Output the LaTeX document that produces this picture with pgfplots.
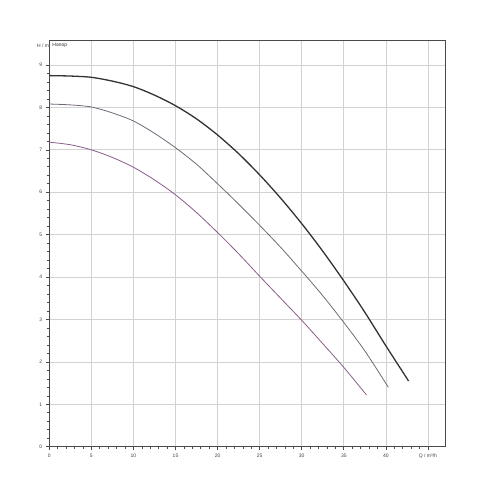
\documentclass[border=0pt]{standalone}
\usepackage{fontspec}
\setmainfont{Liberation Sans}
\usepackage{pgfplots}
\pgfplotsset{compat=1.18}

\definecolor{gridgray}{HTML}{D2D2D2}
\definecolor{framegray}{HTML}{4A4A4A}
\definecolor{curveA}{HTML}{333333}
\definecolor{curveB}{HTML}{736879}
\definecolor{curveC}{HTML}{8C5C8A}

\begin{document}
\begin{tikzpicture}[x=1pt,y=1pt]
\useasboundingbox (0,0) rectangle (500,500);

\begin{axis}[
  at={(49.3pt,53.3pt)},
  anchor=south west,
  scale only axis,
  width=395.7pt,
  height=406.7pt,
  xmin=0, xmax=47.03,
  ymin=0, ymax=9.59,
  xtick={0,5,...,45},
  xticklabels={0,5,10,15,20,25,30,35,40,{Q / m³/h}},
  ytick={0,1,...,9},
  minor x tick num=4,
  minor y tick num=4,
  tick align=outside,
  major tick length=3pt,
  minor tick length=2pt,
  tick style={framegray, line width=0.6pt},
  xtick pos=bottom,
  ytick pos=left,
  grid=major,
  major grid style={gridgray, line width=0.7pt},
  axis line style={framegray, line width=0.8pt},
  ticklabel style={font=\fontsize{5}{6}\selectfont, text=black!75},
  /pgf/number format/assume math mode=true,
  xticklabel style={yshift=-1pt},
  yticklabel style={xshift=-0.5pt},
  clip=false,
]

% upper curve
\addplot[curveA, line width=1.3pt, smooth] coordinates {
  (0,8.75) (2.5,8.74) (5,8.71) (7.5,8.62) (10,8.49) (12.5,8.29)
  (15,8.04) (17.5,7.73) (20,7.35) (22.5,6.91) (25,6.41) (27.5,5.86)
  (30,5.26) (32.5,4.61) (35,3.91) (37.5,3.17) (40,2.38) (42.7,1.55)
};

% middle curve
\addplot[curveB, line width=0.8pt, smooth] coordinates {
  (0,8.08) (2.5,8.06) (5,8.01) (7.5,7.87) (10,7.68) (12.5,7.39)
  (15,7.05) (17.5,6.66) (20,6.20) (22.5,5.72) (25,5.22) (27.5,4.70)
  (30,4.14) (32.5,3.56) (35,2.93) (37.5,2.26) (40.3,1.40)
};

% lower curve
\addplot[curveC, line width=0.8pt, smooth] coordinates {
  (0,7.18) (2.5,7.12) (5,7.00) (7.5,6.82) (10,6.59) (12.5,6.29)
  (15,5.94) (17.5,5.52) (20,5.05) (22.5,4.55) (25,4.02) (27.5,3.50)
  (30,2.98) (32.5,2.43) (35,1.87) (37.7,1.22)
};

\node[anchor=east, font=\fontsize{5}{6}\selectfont, text=black!75, inner sep=0pt]
  at (rel axis cs:0,0.987) {H / m\hspace{3pt}};
\node[anchor=west, font=\fontsize{5}{6}\selectfont, text=black!80, inner sep=0pt]
  at (axis cs:0.35,9.47) {Напор};
\end{axis}
\end{tikzpicture}
\end{document}
